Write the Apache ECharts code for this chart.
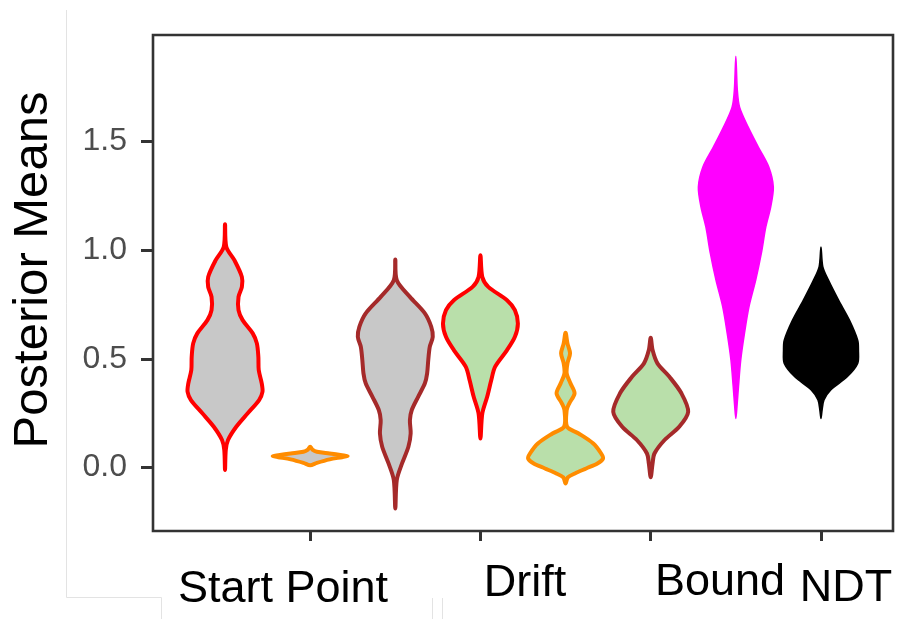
<!DOCTYPE html>
<html>
<head>
<meta charset="utf-8">
<script src="https://cdn.jsdelivr.net/npm/echarts@6/dist/echarts.min.js"></script>
<style>
  html, body { margin: 0; padding: 0; background: #ffffff; }
  #chart { width: 912px; height: 619px; }
</style>
</head>
<body>
<div id="chart"></div>
<script>
// Group labels drawn under the axis
const groupLabels = ['Start Point', 'Drift', 'Bound', 'NDT'];

// Y-axis tick values
const yTicks = [0, 0.5, 1.0, 1.5];

// Violin slots along the x axis (1..8)
const slots = [1, 2, 3, 4, 5, 6, 7, 8];

// Density profiles: [posterior mean, relative density (1 = widest)]
const startRed = [[1.120,0],[1.015,0.035],[0.954,0.25],[0.877,0.45],[0.831,0.45],[0.785,0.36],[0.724,0.36],[0.678,0.47],[0.617,0.74],[0.571,0.85],[0.509,0.89],[0.448,0.9],[0.387,0.98],[0.348,1.0],[0.310,0.91],[0.248,0.6],[0.187,0.3],[0.126,0.08],[0.080,0.02],[-0.012,0]];
const startOrange = [[0.095,0],[0.082,0.06],[0.072,0.18],[0.064,0.52],[0.056,0.85],[0.052,1.0],[0.047,0.85],[0.037,0.52],[0.021,0.18],[0.010,0]];
const startBrown = [[0.957,0],[0.862,0.04],[0.785,0.39],[0.709,0.79],[0.647,0.96],[0.601,1.0],[0.555,0.92],[0.494,0.88],[0.433,0.85],[0.387,0.79],[0.325,0.61],[0.264,0.44],[0.218,0.39],[0.156,0.41],[0.095,0.35],[0.018,0.18],[-0.058,0.04],[-0.189,0]];
const driftRed = [[0.977,0],[0.877,0.05],[0.831,0.21],[0.770,0.71],[0.724,0.92],[0.663,1.0],[0.601,0.92],[0.540,0.71],[0.463,0.39],[0.402,0.29],[0.325,0.18],[0.248,0.05],[0.133,0]];
const driftOrange = [[0.620,0],[0.571,0.05],[0.525,0.12],[0.479,0.05],[0.433,0.03],[0.387,0.13],[0.341,0.24],[0.295,0.1],[0.264,0.03],[0.187,0.04],[0.156,0.35],[0.110,0.74],[0.064,0.95],[0.041,1.0],[0.018,0.85],[-0.005,0.55],[-0.028,0.25],[-0.046,0.06],[-0.074,0]];
const driftBrown = [[0.597,0],[0.540,0.05],[0.479,0.18],[0.417,0.5],[0.341,0.82],[0.256,1.0],[0.187,0.76],[0.126,0.37],[0.064,0.1],[0.018,0.05],[-0.046,0]];
const bound = [[1.893,0],[1.736,0.04],[1.659,0.1],[1.567,0.33],[1.475,0.6],[1.383,0.88],[1.291,1.0],[1.199,0.93],[1.107,0.8],[0.985,0.68],[0.862,0.53],[0.739,0.35],[0.617,0.23],[0.494,0.13],[0.371,0.07],[0.279,0.03],[0.225,0]];
const ndt = [[1.015,0],[0.923,0.05],[0.862,0.2],[0.770,0.47],[0.678,0.76],[0.586,0.98],[0.540,1.0],[0.479,0.98],[0.417,0.7],[0.356,0.26],[0.310,0.08],[0.264,0.03],[0.225,0]];

const profiles = [startRed, startOrange, startBrown, driftRed, driftOrange, driftBrown, bound, ndt];

// Styling for each violin
const GREY = '#c8c8c8', GREEN = '#b9dfaa';
const fills   = [GREY, GREY, GREY, GREEN, GREEN, GREEN, '#ff00ff', '#000000'];
const strokes = ['#ff0000', '#ff8c00', '#a52a2a', '#ff0000', '#ff8c00', '#a52a2a', '#ff00ff', '#000000'];
const strokeWidths = [4, 4, 4, 4, 4, 4, 1.5, 1.5];
const HALF_WIDTH = 0.44; // half width (x units) at relative density 1
const FONT = 'Liberation Sans, Arial, sans-serif';

const chart = echarts.init(document.getElementById('chart'), null, { renderer: 'canvas' });

function renderViolin(params, api) {
  const x = api.value(0);
  const k = api.value(1);
  const prof = profiles[k];
  const n = prof.length;
  const pts = [];
  // top tip, right side downward, bottom tip, left side upward
  pts.push(api.coord([x, prof[0][0]]));
  for (let i = 1; i < n - 1; i++) pts.push(api.coord([x + prof[i][1] * HALF_WIDTH, prof[i][0]]));
  pts.push(api.coord([x, prof[n - 1][0]]));
  for (let i = n - 2; i >= 1; i--) pts.push(api.coord([x - prof[i][1] * HALF_WIDTH, prof[i][0]]));
  return {
    type: 'polygon',
    shape: { points: pts, smooth: 0.3 },
    style: { fill: fills[k], stroke: strokes[k], lineWidth: strokeWidths[k], lineJoin: 'round' }
  };
}

function faintLine(x1, y1, x2, y2) {
  return { type: 'line', silent: true, shape: { x1, y1, x2, y2 }, style: { stroke: '#e3e3e3', lineWidth: 1 } };
}

function label(text, x, y, size, rotation) {
  return { type: 'text', x, y, rotation: rotation || 0,
    style: { text, fontSize: size, fontFamily: FONT, fill: '#000', align: 'center', verticalAlign: 'middle' } };
}

const option = {
  animation: false,
  backgroundColor: '#ffffff',
  grid: {
    left: 153, top: 35, right: 19, bottom: 88,
    show: true, borderColor: '#333333', borderWidth: 2.6, backgroundColor: 'transparent'
  },
  xAxis: {
    type: 'value', min: 0.154, max: 8.846,
    splitLine: { show: false },
    axisLine: { show: false, onZero: false },
    axisTick: { show: true, customValues: [2, 4, 6, 8], length: 10, lineStyle: { color: '#333333', width: 3 } },
    axisLabel: { show: false }
  },
  yAxis: {
    type: 'value', min: -0.293, max: 1.991,
    splitLine: { show: false },
    axisLine: { show: false, onZero: false },
    axisTick: { show: true, customValues: yTicks, length: 12, lineStyle: { color: '#333333', width: 3 } },
    axisLabel: {
      customValues: yTicks, margin: 26, color: '#4d4d4d', fontSize: 32,
      fontFamily: FONT,
      formatter: v => Number(v).toFixed(1)
    }
  },
  series: [{
    type: 'custom',
    renderItem: renderViolin,
    data: slots.map((s, i) => [s, i]),
    silent: true
  }],
  graphic: [
    // faint frame lines around the figure
    faintLine(66.5, 10, 66.5, 597.5),
    faintLine(66.5, 597.5, 161.5, 597.5),
    faintLine(161.5, 597.5, 161.5, 619),
    faintLine(432.5, 598, 432.5, 619),
    faintLine(442.5, 598, 442.5, 619),
    // axis title
    label('Posterior Means', 33, 270, 49, Math.PI / 2),
    // group labels
    label(groupLabels[0], 283, 590, 45),
    label(groupLabels[1], 525, 584, 45),
    label(groupLabels[2], 720, 583, 45),
    label(groupLabels[3], 846, 589, 45)
  ]
};

chart.setOption(option);
</script>
</body>
</html>
